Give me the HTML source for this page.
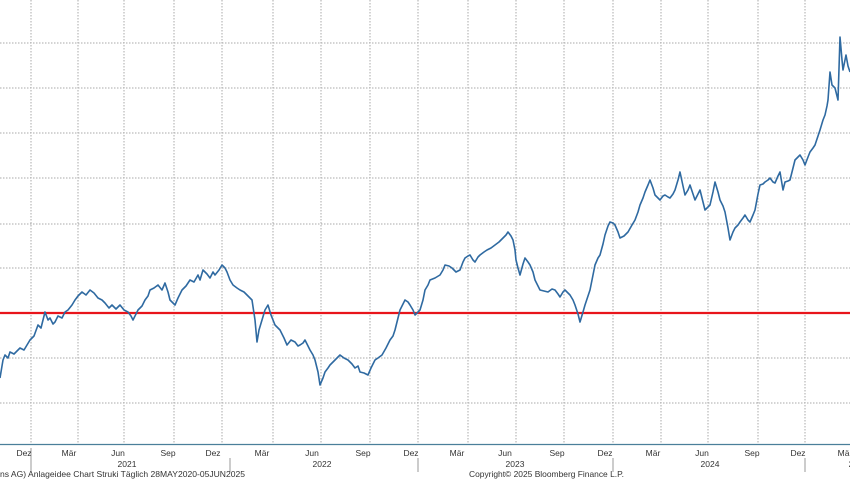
<!DOCTYPE html>
<html><head><meta charset="utf-8"><style>
html,body{margin:0;padding:0;background:#fff;}
svg{display:block;font-family:"Liberation Sans",sans-serif;}
</style></head><body>
<svg width="850" height="480" viewBox="0 0 850 480" xmlns="http://www.w3.org/2000/svg">
<rect width="850" height="480" fill="#fff"/>
<g stroke="#aaa" stroke-width="1" stroke-dasharray="1.5,1.5" fill="none">
<line x1="0" y1="43" x2="850" y2="43"/>
<line x1="0" y1="88" x2="850" y2="88"/>
<line x1="0" y1="133" x2="850" y2="133"/>
<line x1="0" y1="178" x2="850" y2="178"/>
<line x1="0" y1="224" x2="850" y2="224"/>
<line x1="0" y1="268" x2="850" y2="268"/>
<line x1="0" y1="358" x2="850" y2="358"/>
<line x1="0" y1="403" x2="850" y2="403"/>
<line x1="31" y1="0" x2="31" y2="444"/>
<line x1="78" y1="0" x2="78" y2="444"/>
<line x1="124" y1="0" x2="124" y2="444"/>
<line x1="174" y1="0" x2="174" y2="444"/>
<line x1="222" y1="0" x2="222" y2="444"/>
<line x1="273" y1="0" x2="273" y2="444"/>
<line x1="321" y1="0" x2="321" y2="444"/>
<line x1="370" y1="0" x2="370" y2="444"/>
<line x1="418" y1="0" x2="418" y2="444"/>
<line x1="468" y1="0" x2="468" y2="444"/>
<line x1="516" y1="0" x2="516" y2="444"/>
<line x1="564" y1="0" x2="564" y2="444"/>
<line x1="613" y1="0" x2="613" y2="444"/>
<line x1="661" y1="0" x2="661" y2="444"/>
<line x1="708" y1="0" x2="708" y2="444"/>
<line x1="758" y1="0" x2="758" y2="444"/>
<line x1="805" y1="0" x2="805" y2="444"/>
</g>
<line x1="0" y1="313" x2="850" y2="313" stroke="#e8151b" stroke-width="2.2"/>
<line x1="0" y1="444.5" x2="850" y2="444.5" stroke="#4a7f9a" stroke-width="1.2"/>
<g stroke="#999" stroke-width="1">
<line x1="31" y1="448" x2="31" y2="472"/>
<line x1="230" y1="458" x2="230" y2="472"/>
<line x1="418" y1="458" x2="418" y2="472"/>
<line x1="613" y1="458" x2="613" y2="472"/>
<line x1="805" y1="458" x2="805" y2="472"/>
</g>
<polyline fill="none" stroke="#2f6aa1" stroke-width="1.6" stroke-linejoin="round" points="0,378 3,360 5,355 8,358 10,352 14,354 20,348 24,350 30,340 34,336 38,325 41,328 45,312 48,320 50,318 53,324 55,322 58,316 62,318 65,312 68,310 72,305 75,300 78,296 82,292 86,295 90,290 94,293 98,298 102,300 105,303 109,308 112,305 116,309 120,305 124,310 128,312 131,316 133,320 136,314 138,310 142,306 145,300 148,296 150,290 154,288 158,285 162,290 165,283 168,292 170,300 173,303 175,305 178,298 182,290 186,286 190,280 194,282 198,275 200,280 203,270 207,274 210,278 213,272 215,275 219,270 222,265 225,268 227,272 230,280 233,285 237,288 240,290 244,292 247,295 250,298 252,300 255,320 257,342 259,330 262,320 265,310 268,305 271,315 275,325 278,328 280,330 284,338 287,345 291,340 295,342 298,346 300,345 303,343 305,340 308,346 310,350 313,355 315,360 318,372 320,385 323,378 325,372 328,368 330,365 335,360 340,355 344,358 348,360 352,364 355,368 358,366 360,372 364,373 368,375 371,368 375,360 378,358 382,355 386,348 390,340 393,336 395,330 398,318 400,310 403,304 405,300 408,302 410,305 413,310 415,315 418,312 420,310 423,300 425,290 428,285 430,280 435,278 440,275 443,270 445,265 449,266 452,268 456,272 460,270 463,262 465,258 468,256 470,255 473,260 475,262 478,257 480,255 484,252 487,250 491,248 495,245 499,242 503,238 506,235 508,232 511,236 513,240 515,250 516,260 518,268 520,275 523,264 525,258 528,262 530,265 533,272 535,280 538,286 540,290 544,291 548,292 552,289 555,290 558,294 560,297 563,292 565,290 568,293 570,295 573,300 575,305 578,314 580,322 583,312 585,305 588,296 590,290 593,275 595,265 598,258 600,255 603,244 605,235 608,226 610,222 613,223 615,225 618,232 620,238 624,236 628,232 632,225 635,220 638,212 640,205 643,198 645,192 648,185 650,180 653,188 655,195 658,198 660,200 663,196 665,195 668,197 670,198 673,194 675,190 678,180 680,172 683,186 685,195 688,190 690,185 693,194 695,200 698,194 700,190 703,202 705,210 708,207 710,205 713,192 715,182 718,192 720,200 723,206 725,212 728,228 730,240 733,232 735,228 738,225 740,222 743,218 745,215 748,220 750,222 753,215 755,210 758,194 760,185 763,184 765,182 768,180 770,178 773,182 775,183 778,176 780,172 783,190 785,182 788,181 790,180 793,168 795,160 798,157 800,155 803,160 805,165 808,157 810,152 813,148 815,145 818,136 820,130 823,120 825,115 827,106 828,100 830,72 832,85 835,88 837,96 838,100 840,37 842,60 843,70 845,60 846,55 848,66 850,72"/>
<g font-size="8.5" fill="#333" text-anchor="middle">
<text x="24" y="456">Dez</text>
<text x="69" y="456">Mär</text>
<text x="118" y="456">Jun</text>
<text x="168" y="456">Sep</text>
<text x="213" y="456">Dez</text>
<text x="262" y="456">Mär</text>
<text x="312" y="456">Jun</text>
<text x="363" y="456">Sep</text>
<text x="411" y="456">Dez</text>
<text x="457" y="456">Mär</text>
<text x="505" y="456">Jun</text>
<text x="557" y="456">Sep</text>
<text x="605" y="456">Dez</text>
<text x="653" y="456">Mär</text>
<text x="702" y="456">Jun</text>
<text x="752" y="456">Sep</text>
<text x="798" y="456">Dez</text>
<text x="845" y="456">Mär</text>
<text x="127" y="467">2021</text>
<text x="322" y="467">2022</text>
<text x="515" y="467">2023</text>
<text x="710" y="467">2024</text>
<text x="851" y="467">2</text>
</g>
<g font-size="8.3" fill="#333">
<text x="0" y="477" textLength="245" lengthAdjust="spacingAndGlyphs">ns AG) Anlageidee Chart Struki  Täglich 28MAY2020-05JUN2025</text>
<text x="469" y="477" textLength="155" lengthAdjust="spacingAndGlyphs">Copyright© 2025 Bloomberg Finance L.P.</text>
</g>
</svg>
</body></html>
